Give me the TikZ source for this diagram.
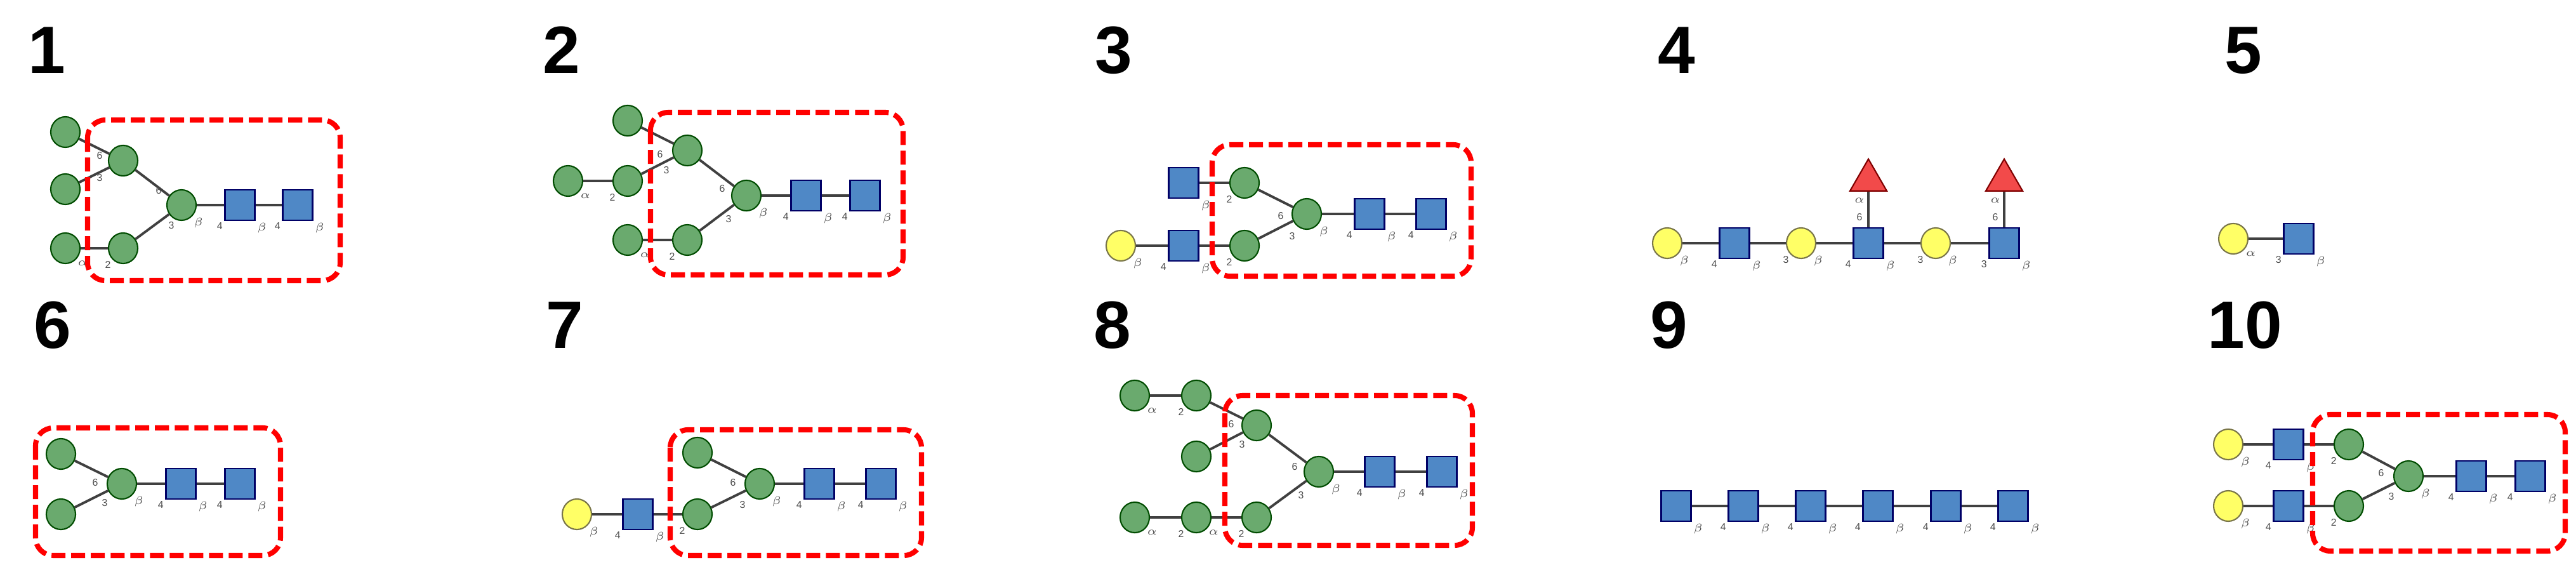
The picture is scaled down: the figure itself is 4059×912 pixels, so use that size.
\documentclass[tikz,border=0pt]{standalone}
\usepackage{fontspec}
\setmainfont{Liberation Sans}
\usetikzlibrary{shapes.geometric}
\definecolor{manc}{HTML}{6AAA6E}
\definecolor{glcc}{HTML}{4F88C6}
\definecolor{galc}{HTML}{FFFF66}
\definecolor{fucc}{HTML}{F24A4A}
\tikzset{
 man/.style={ellipse, draw=black!70!green, fill=manc, minimum width=0.46cm, minimum height=0.48cm, inner sep=0pt, line width=0.6pt},
 galn/.style={ellipse, draw=black!60!yellow, fill=galc, minimum width=0.46cm, minimum height=0.48cm, inner sep=0pt, line width=0.6pt},
 glcn/.style={rectangle, draw=blue!40!black, fill=glcc, minimum width=0.47cm, minimum height=0.48cm, inner sep=0pt, line width=0.8pt},
 fucn/.style={regular polygon, regular polygon sides=3, draw=red!50!black, fill=fucc, minimum size=0.67cm, inner sep=0pt, line width=0.6pt},
 lnk/.style={draw=black!75, line width=1.1pt},
 hbox/.style={draw=red, line width=2.3pt, dash pattern=on 0.22cm off 0.09cm, rounded corners=0.28cm},
 num/.style={anchor=base west, font=\fontsize{30}{30}\selectfont\bfseries, inner sep=0pt},
 lab/.style={font=\fontsize{4.5}{5}\selectfont, inner sep=0.5pt, text=black!70}
}
\newcommand{\hl}[4]{\draw[lnk] (#1) -- (#2);
 \node[lab, anchor=north west] at (#1.south east) {#3};
 \node[lab, anchor=north east] at (#2.south west) {#4};}
\newcommand{\redend}[1]{\node[lab, anchor=north west] at (#1.south east) {$\beta$};}
\begin{document}
\begin{tikzpicture}[x=0.01cm,y=-0.01cm]
\useasboundingbox (0,0) rectangle (4059,912);
% labels
\node[num] (n1) at (44,115) {1};
\node[num] (n2) at (855,115) {2};
\node[num] (n3) at (1725,115) {3};
\node[num] (n4) at (2612,115) {4};
\node[num] (n5) at (3505,115) {5};
\node[num] (n6) at (53,548) {6};
\node[num] (n7) at (860,548) {7};
\node[num] (n8) at (1723,548) {8};
\node[num] (n9) at (2600,548) {9};
\node[num] (n10) at (3478,548) {10};
% ---- panel 1
\node[man] (p1a) at (103,208) {};
\node[man] (p1b) at (103,298) {};
\node[man] (p1c) at (103,391) {};
\node[man] (p1d) at (194,253) {};
\node[man] (p1e) at (194,391) {};
\node[man] (p1f) at (286,323) {};
\node[glcn] (p1g) at (378,323) {};
\node[glcn] (p1h) at (469,323) {};
\draw[lnk] (p1a) -- (p1d); \draw[lnk] (p1b) -- (p1d);
\draw[lnk] (p1d) -- (p1f); \draw[lnk] (p1e) -- (p1f);
\hl{p1c}{p1e}{$\alpha$}{2}\hl{p1f}{p1g}{$\beta$}{4}\hl{p1g}{p1h}{$\beta$}{4}\redend{p1h}
\node[lab] at (157,280) {3}; \node[lab] at (157,245) {6}; \node[lab] at (270,355) {3}; \node[lab] at (250,300) {6};
\draw[hbox] (138,189) rectangle (536,442);
% ---- panel 2
\node[man] (p2a) at (989,190) {};
\node[man] (p2b) at (895,285) {};
\node[man] (p2c) at (989,285) {};
\node[man] (p2d) at (1083,237) {};
\node[man] (p2e) at (1176,308) {};
\node[man] (p2f) at (989,378) {};
\node[man] (p2g) at (1083,378) {};
\node[glcn] (p2h) at (1270,308) {};
\node[glcn] (p2i) at (1363,308) {};
\draw[lnk] (p2a) -- (p2d); \draw[lnk] (p2c) -- (p2d);
\draw[lnk] (p2d) -- (p2e); \draw[lnk] (p2g) -- (p2e);
\hl{p2b}{p2c}{$\alpha$}{2}\hl{p2f}{p2g}{$\alpha$}{2}\hl{p2e}{p2h}{$\beta$}{4}\hl{p2h}{p2i}{$\beta$}{4}\redend{p2i}
\node[lab] at (1040,243) {6}; \node[lab] at (1050,268) {3}; \node[lab] at (1138,297) {6}; \node[lab] at (1148,345) {3};
\draw[hbox] (1025,177) rectangle (1423,433);
% ---- panel 3
\node[galn] (p3a) at (1766,387) {};
\node[glcn] (p3b) at (1865,387) {};
\node[glcn] (p3c) at (1865,288) {};
\node[man] (p3d) at (1961,288) {};
\node[man] (p3e) at (1961,387) {};
\node[man] (p3f) at (2059,337) {};
\node[glcn] (p3g) at (2158,337) {};
\node[glcn] (p3h) at (2255,337) {};
\hl{p3a}{p3b}{$\beta$}{4}\hl{p3b}{p3e}{$\beta$}{2}\hl{p3c}{p3d}{$\beta$}{2}
\draw[lnk] (p3d) -- (p3f); \draw[lnk] (p3e) -- (p3f);
\hl{p3f}{p3g}{$\beta$}{4}\hl{p3g}{p3h}{$\beta$}{4}\redend{p3h}
\node[lab] at (2018,340) {6}; \node[lab] at (2036,372) {3};
\draw[hbox] (1910,228) rectangle (2318,435);
% ---- panel 4
\node[galn] (p4a) at (2627,383) {};
\node[glcn] (p4b) at (2733,383) {};
\node[galn] (p4c) at (2838,383) {};
\node[glcn] (p4d) at (2944,383) {};
\node[galn] (p4e) at (3050,383) {};
\node[glcn] (p4f) at (3158,383) {};
\node[fucn] (p4g) at (2944,284) {};
\node[fucn] (p4h) at (3158,284) {};
\hl{p4a}{p4b}{$\beta$}{4}\hl{p4b}{p4c}{$\beta$}{3}\hl{p4c}{p4d}{$\beta$}{4}\hl{p4d}{p4e}{$\beta$}{3}\hl{p4e}{p4f}{$\beta$}{3}\redend{p4f}
\draw[lnk] (p4d) -- (p4g); \draw[lnk] (p4f) -- (p4h);
\node[lab] at (2930,316) {$\alpha$}; \node[lab] at (2930,342) {6};
\node[lab] at (3144,316) {$\alpha$}; \node[lab] at (3144,342) {6};
% ---- panel 5
\node[galn] (p5a) at (3519,376) {};
\node[glcn] (p5b) at (3622,376) {};
\hl{p5a}{p5b}{$\alpha$}{3}\redend{p5b}
% ---- panel 6
\node[man] (p6a) at (96,715) {};
\node[man] (p6b) at (96,810) {};
\node[man] (p6c) at (192,762) {};
\node[glcn] (p6d) at (285,762) {};
\node[glcn] (p6e) at (378,762) {};
\draw[lnk] (p6a) -- (p6c); \draw[lnk] (p6b) -- (p6c);
\hl{p6c}{p6d}{$\beta$}{4}\hl{p6d}{p6e}{$\beta$}{4}\redend{p6e}
\node[lab] at (150,760) {6}; \node[lab] at (165,792) {3};
\draw[hbox] (56,674) rectangle (442,875);
% ---- panel 7
\node[galn] (p7a) at (909,810) {};
\node[glcn] (p7b) at (1005,810) {};
\node[man] (p7c) at (1099,713) {};
\node[man] (p7d) at (1099,810) {};
\node[man] (p7e) at (1197,762) {};
\node[glcn] (p7f) at (1291,762) {};
\node[glcn] (p7g) at (1388,762) {};
\hl{p7a}{p7b}{$\beta$}{4}\hl{p7b}{p7d}{$\beta$}{2}
\draw[lnk] (p7c) -- (p7e); \draw[lnk] (p7d) -- (p7e);
\hl{p7e}{p7f}{$\beta$}{4}\hl{p7f}{p7g}{$\beta$}{4}\redend{p7g}
\node[lab] at (1155,760) {6}; \node[lab] at (1170,795) {3};
\draw[hbox] (1056,677) rectangle (1452,875);
% ---- panel 8
\node[man] (p8a) at (1788,623) {};
\node[man] (p8b) at (1885,623) {};
\node[man] (p8c) at (1980,670) {};
\node[man] (p8d) at (1885,719) {};
\node[man] (p8e) at (2078,743) {};
\node[man] (p8f) at (1788,815) {};
\node[man] (p8g) at (1885,815) {};
\node[man] (p8h) at (1980,815) {};
\node[glcn] (p8i) at (2174,743) {};
\node[glcn] (p8j) at (2272,743) {};
\hl{p8a}{p8b}{$\alpha$}{2}\hl{p8f}{p8g}{$\alpha$}{2}\hl{p8g}{p8h}{$\alpha$}{2}
\draw[lnk] (p8b) -- (p8c); \draw[lnk] (p8d) -- (p8c);
\draw[lnk] (p8c) -- (p8e); \draw[lnk] (p8h) -- (p8e);
\hl{p8e}{p8i}{$\beta$}{4}\hl{p8i}{p8j}{$\beta$}{4}\redend{p8j}
\node[lab] at (1940,668) {6}; \node[lab] at (1957,700) {3}; \node[lab] at (2040,735) {6}; \node[lab] at (2050,780) {3};
\draw[hbox] (1930,623) rectangle (2320,859);
% ---- panel 9
\node[glcn] (p9a) at (2641,797) {};
\node[glcn] (p9b) at (2747,797) {};
\node[glcn] (p9c) at (2853,797) {};
\node[glcn] (p9d) at (2959,797) {};
\node[glcn] (p9e) at (3066,797) {};
\node[glcn] (p9f) at (3172,797) {};
\hl{p9a}{p9b}{$\beta$}{4}\hl{p9b}{p9c}{$\beta$}{4}\hl{p9c}{p9d}{$\beta$}{4}\hl{p9d}{p9e}{$\beta$}{4}\hl{p9e}{p9f}{$\beta$}{4}\redend{p9f}
% ---- panel 10
\node[galn] (p10a) at (3511,700) {};
\node[galn] (p10b) at (3511,797) {};
\node[glcn] (p10c) at (3606,700) {};
\node[glcn] (p10d) at (3606,797) {};
\node[man] (p10e) at (3701,700) {};
\node[man] (p10f) at (3701,797) {};
\node[man] (p10g) at (3795,750) {};
\node[glcn] (p10h) at (3894,750) {};
\node[glcn] (p10i) at (3987,750) {};
\hl{p10a}{p10c}{$\beta$}{4}\hl{p10b}{p10d}{$\beta$}{4}\hl{p10c}{p10e}{$\beta$}{2}\hl{p10d}{p10f}{$\beta$}{2}
\draw[lnk] (p10e) -- (p10g); \draw[lnk] (p10f) -- (p10g);
\hl{p10g}{p10h}{$\beta$}{4}\hl{p10h}{p10i}{$\beta$}{4}\redend{p10i}
\node[lab] at (3752,745) {6}; \node[lab] at (3768,782) {3};
\draw[hbox] (3644,653) rectangle (4042,868);
\end{tikzpicture}
\end{document}
